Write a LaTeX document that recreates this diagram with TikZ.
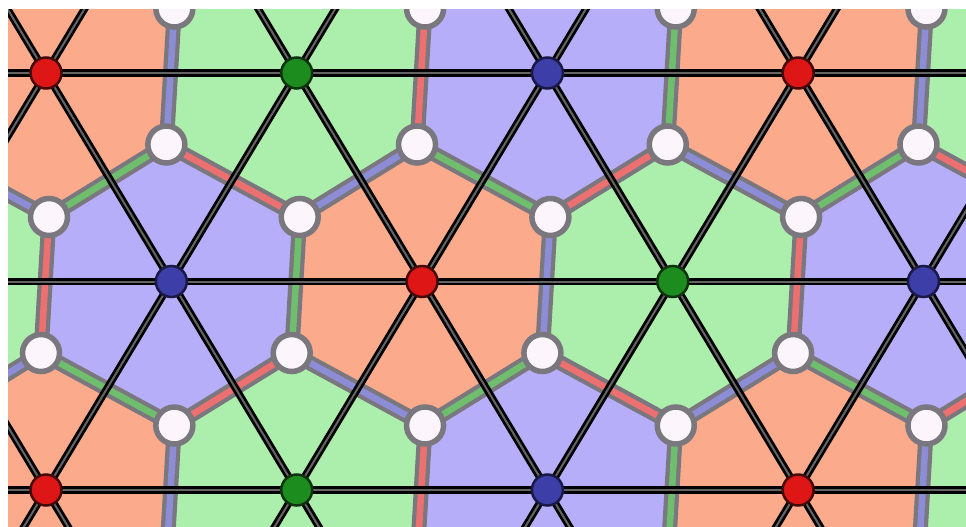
\documentclass[tikz,border=0pt]{standalone}
\definecolor{hex0}{RGB}{251,170,140}
\definecolor{hex1}{RGB}{172,238,172}
\definecolor{hex2}{RGB}{183,174,250}
\definecolor{strip0}{RGB}{236,112,112}
\definecolor{strip1}{RGB}{110,190,110}
\definecolor{strip2}{RGB}{140,140,215}
\definecolor{dot0}{RGB}{222,22,22}
\definecolor{dot1}{RGB}{28,140,30}
\definecolor{dot2}{RGB}{62,62,168}
\definecolor{dotd0}{RGB}{70,10,10}
\definecolor{dotd1}{RGB}{15,50,15}
\definecolor{dotd2}{RGB}{25,25,70}
\definecolor{hgrey}{RGB}{122,120,126}
\definecolor{wfill}{RGB}{252,246,252}
\definecolor{latgrey}{RGB}{100,100,100}
\begin{document}
\begin{tikzpicture}[x=1pt,y=-1pt,
  vdot/.style={circle,inner sep=0pt,minimum size=31pt,line width=2.5pt},
  wnode/.style={circle,inner sep=0pt,minimum size=37pt,fill=wfill,draw=hgrey,line width=5.5pt},
  hbar/.style={line width=15pt,draw=hgrey},
  hstrip/.style={line width=6.5pt},
  lat/.style={line width=7.5pt,draw=black},
  latmid/.style={line width=2pt,draw=latgrey}]
\useasboundingbox (0,0) rectangle (966,527);
\fill[white] (0,0) rectangle (966,527);
\begin{scope}
\clip (8,10) rectangle (966,527);
% lattice points and triangle centres
\foreach \i in {0,...,10}{
  \foreach \j in {0,...,5}{
    \pgfmathsetmacro{\vx}{46+250.7*((\i-3)+(\j-2)/2)}
    \pgfmathsetmacro{\vy}{73+208.5*(\j-2)}
    \coordinate (v\i-\j) at (\vx,\vy);
    \pgfmathsetmacro{\dx}{46+250.7*((\i-3)+0.5+(\j-2)/2)-5}
    \pgfmathsetmacro{\dy}{73+208.5*((\j-2)+1/3)+2}
    \coordinate (d\i-\j) at (\dx,\dy);
    \pgfmathsetmacro{\ux}{46+250.7*((\i-3)+1+(\j-2)/2)+3}
    \pgfmathsetmacro{\uy}{73+208.5*((\j-2)+2/3)+5}
    \coordinate (u\i-\j) at (\ux,\uy);
  }
}
% hexagonal faces
\foreach \i in {1,...,10}{
  \foreach \j in {1,...,5}{
    \pgfmathtruncatemacro{\im}{\i-1}
    \pgfmathtruncatemacro{\jm}{\j-1}
    \pgfmathtruncatemacro{\cc}{mod(\i-\j+29,3)}
    \fill[hex\cc] (d\i-\jm) -- (u\i-\jm) -- (d\i-\j) -- (u\im-\j) -- (d\im-\j) -- (u\im-\jm) -- cycle;
  }
}
% honeycomb edges: grey bars
\foreach \i in {1,...,10}{
  \foreach \j in {1,...,5}{
    \pgfmathtruncatemacro{\im}{\i-1}
    \pgfmathtruncatemacro{\jm}{\j-1}
    \draw[hbar] (d\i-\j) -- (u\i-\jm);
    \draw[hbar] (d\i-\j) -- (u\im-\j);
    \draw[hbar] (d\i-\j) -- (u\i-\j);
  }
}
% honeycomb edges: coloured strips
\foreach \i in {1,...,10}{
  \foreach \j in {1,...,5}{
    \pgfmathtruncatemacro{\im}{\i-1}
    \pgfmathtruncatemacro{\jm}{\j-1}
    \pgfmathtruncatemacro{\ca}{mod(\i-\j+28,3)}
    \pgfmathtruncatemacro{\cb}{mod(\i-\j+30,3)}
    \pgfmathtruncatemacro{\cd}{mod(\i-\j+29,3)}
    \draw[hstrip,strip\ca] (d\i-\j) -- (u\i-\jm);
    \draw[hstrip,strip\cb] (d\i-\j) -- (u\im-\j);
    \draw[hstrip,strip\cd] (d\i-\j) -- (u\i-\j);
  }
}
% triangular lattice lines
\foreach \j in {0,...,5}{
  \draw[lat] (v0-\j) -- (v10-\j);
  \draw[latmid] (v0-\j) -- (v10-\j);
}
\foreach \i in {0,...,10}{
  \draw[lat] (v\i-0) -- (v\i-5);
  \draw[latmid] (v\i-0) -- (v\i-5);
}
\foreach \a in {5,...,10}{
  \pgfmathtruncatemacro{\b}{\a-5}
  \draw[lat] (v\a-0) -- (v\b-5);
  \draw[latmid] (v\a-0) -- (v\b-5);
}
% white honeycomb nodes
\foreach \i in {0,...,10}{
  \foreach \j in {0,...,5}{
    \node[wnode] (wd\i-\j) at (d\i-\j) {};
    \node[wnode] (wu\i-\j) at (u\i-\j) {};
  }
}
% coloured lattice vertices
\foreach \i in {0,...,10}{
  \foreach \j in {0,...,5}{
    \pgfmathtruncatemacro{\cc}{mod(\i-\j+29,3)}
    \node[vdot,fill=dot\cc,draw=dotd\cc] (p\i-\j) at (v\i-\j) {};
  }
}
\end{scope}
\end{tikzpicture}
\end{document}
